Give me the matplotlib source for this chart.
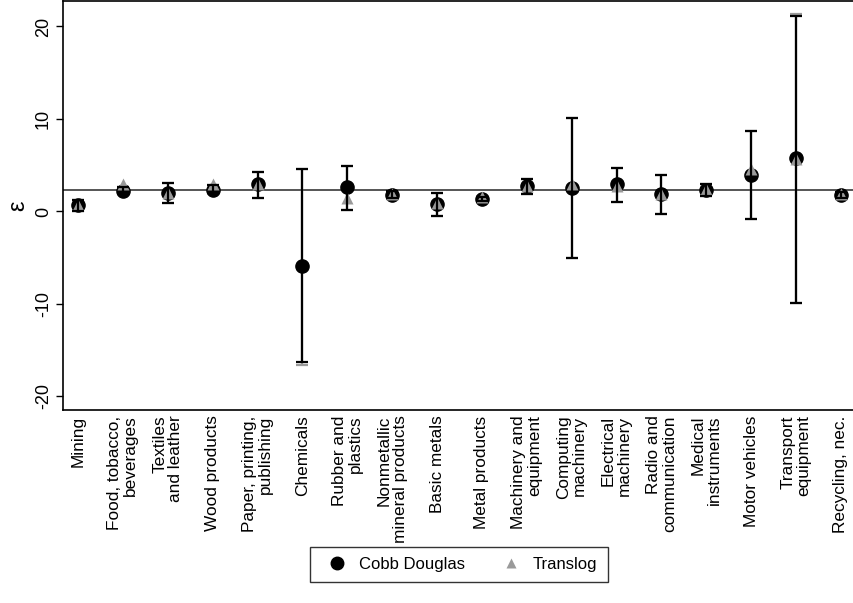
import matplotlib
matplotlib.use("Agg")
import matplotlib.pyplot as plt
from matplotlib.lines import Line2D
import numpy as np

plt.rcParams['font.family'] = ['Liberation Sans', 'DejaVu Sans']

# industries (x categories)
industries = ["Mining", "Food, tobacco,\nbeverages", "Textiles\nand leather",
              "Wood products", "Paper, printing,\npublishing", "Chemicals",
              "Rubber and\nplastics", "Nonmetallic\nmineral products",
              "Basic metals", "Metal products", "Machinery and\nequipment",
              "Computing\nmachinery", "Electrical\nmachinery",
              "Radio and\ncommunication", "Medical\ninstruments",
              "Motor vehicles", "Transport\nequipment", "Recycling, nec."]

# Cobb Douglas estimates and confidence bounds
cd_est = [0.65, 2.25, 2.0, 2.35, 2.95, -5.9, 2.6, 1.8, 0.85, 1.4, 2.7, 2.5,
          2.95, 1.9, 2.3, 3.95, 5.75, 1.8]
cd_lo = [0.0, 1.95, 0.95, 2.0, 1.5, -16.3, 0.2, 1.45, -0.45, 1.15, 1.85, -5.05,
         1.0, -0.3, 1.65, -0.85, -9.85, 1.5]
cd_hi = [1.25, 2.6, 3.1, 2.85, 4.3, 4.55, 4.95, 2.2, 2.05, 1.6, 3.55, 10.15,
         4.65, 3.95, 3.0, 8.7, 21.15, 2.15]

# Translog estimates and confidence bounds (chemicals point not shown)
tl_est = [0.75, 2.95, 2.0, 2.95, 2.95, np.nan, 1.45, 1.9, 0.9, 1.55, 2.75, 3.0,
          2.75, 1.85, 2.4, 4.6, 5.7, 1.85]
tl_lo = [0.0, 1.95, 0.95, 2.0, 1.5, -16.55, 0.2, 1.45, -0.45, 1.15, 1.85, -5.05,
         1.0, -0.3, 1.65, -0.85, -9.85, 1.5]
tl_hi = [1.25, 2.6, 3.1, 2.85, 4.3, 4.55, 4.95, 2.2, 2.05, 1.6, 3.55, 10.15,
         4.65, 3.95, 3.0, 8.7, 21.3, 2.15]

mean_eps = 2.37

fig = plt.figure(figsize=(8.54, 6.03), dpi=100)
ax = fig.add_axes([63/854, 1 - 410/603, 1 - 63/854, 410/603 - 1/603])

x = np.arange(len(industries))
grey = '#9a9a9a'
cap = 9


def rcap(lo, hi, color, z):
    ax.vlines(x, lo, hi, color=color, lw=1.6, zorder=z)
    ax.plot(x, lo, ls='none', marker='_', ms=cap, mew=1.6, color=color, zorder=z)
    ax.plot(x, hi, ls='none', marker='_', ms=cap, mew=1.6, color=color, zorder=z)


ax.axhline(mean_eps, color='#555555', lw=1.4, zorder=1)

rcap(tl_lo, tl_hi, grey, 2)
ax.plot(x, cd_est, 'o', color='black', ms=9.5, zorder=3)
ax.plot(x, tl_est, '^', color=grey, ms=8.5, mec='none', zorder=4)
rcap(cd_lo, cd_hi, 'black', 5)

ax.set_xlim(-0.334, 17.29)
ax.set_ylim(-21.46, 22.75)
ax.set_yticks([-20, -10, 0, 10, 20])
ax.set_yticklabels(['-20', '-10', '0', '10', '20'], rotation=90, va='center', fontsize=13)
ax.tick_params(axis='y', direction='out', length=5, width=1, pad=3)
ax.set_xticks(x)
ax.set_xticklabels(industries, rotation=90, ha='center', va='top',
                   multialignment='right', fontsize=12.4, linespacing=1.08)
ax.tick_params(axis='x', length=0, pad=4)
ax.set_ylabel('ε', fontsize=17, labelpad=4)
ax.spines['right'].set_visible(False)
for s in ['left', 'bottom', 'top']:
    ax.spines[s].set_linewidth(1.2)

handles = [Line2D([], [], ls='none', marker='o', color='black', ms=9),
           Line2D([], [], ls='none', marker='^', color=grey, mec='none', ms=7)]
leg = fig.legend(handles, ['Cobb Douglas', 'Translog'], loc='center',
                 bbox_to_anchor=(459/854, 1 - 564/603), ncol=2, fancybox=False,
                 edgecolor='black', handletextpad=0.3, columnspacing=1.8,
                 borderpad=0.6, prop={'size': 12})
leg.get_frame().set_linewidth(1.0)

fig.savefig('out.png', dpi=100)
